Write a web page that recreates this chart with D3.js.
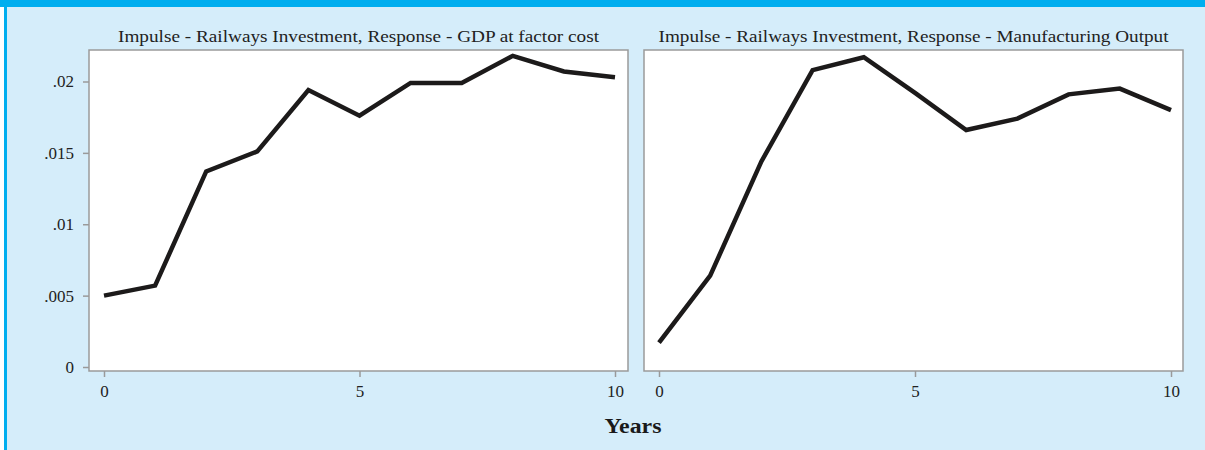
<!DOCTYPE html>
<html>
<head>
<meta charset="utf-8">
<script src="https://cdn.jsdelivr.net/npm/d3@7"></script>
<style>
  body { margin: 0; background: #fff; }
  svg { display: block; }
  .tick text { font-family: "Liberation Serif", "DejaVu Serif", serif; fill: #222; }
</style>
</head>
<body>
<svg width="1205" height="450"></svg>
<script>
  'use strict';

  // years after the impulse
  const years = [0, 1, 2, 3, 4, 5, 6, 7, 8, 9, 10];
  // response of GDP at factor cost
  const gdpResponse = [0.0050, 0.0057, 0.0137, 0.0151, 0.0194, 0.0176, 0.0199, 0.0199, 0.0218, 0.0207, 0.0203];
  // response of manufacturing output
  const mfgResponse = [0.0017, 0.0064, 0.0144, 0.0208, 0.0217, 0.0192, 0.0166, 0.0174, 0.0191, 0.0195, 0.0180];
  const panelTitles = [
    'Impulse - Railways Investment, Response - GDP at factor cost',
    'Impulse - Railways Investment, Response - Manufacturing Output'
  ];
  const yTicks = [0, 0.005, 0.01, 0.015, 0.02];
  const yTickLabels = ['0', '.005', '.01', '.015', '.02'];
  const xTicks = [0, 5, 10];

  const svg = d3.select('svg');

  // page background + blue frame
  svg.append('rect').attr('x', 4).attr('y', 0).attr('width', 1201).attr('height', 450).attr('fill', '#d5edfa');
  svg.append('rect').attr('x', 4).attr('y', 0).attr('width', 3).attr('height', 450).attr('fill', '#00aeef');
  svg.append('rect').attr('x', 0).attr('y', 0).attr('width', 1205).attr('height', 7).attr('fill', '#00aeef');

  const y = d3.scaleLinear().domain([0, 0.02]).range([367, 81.5]);

  const panels = [
    {left: 89, right: 628, x0: 104, x1: 615, values: gdpResponse, title: panelTitles[0], titleW: 481, yAxis: true},
    {left: 644, right: 1183, x0: 659, x1: 1171, values: mfgResponse, title: panelTitles[1], titleW: 510, yAxis: false}
  ];
  const plotTop = 50, plotBottom = 371;

  panels.forEach(p => {
    const x = d3.scaleLinear().domain([0, 10]).range([p.x0, p.x1]);
    const g = svg.append('g');

    g.append('rect')
      .attr('x', p.left).attr('y', plotTop)
      .attr('width', p.right - p.left).attr('height', plotBottom - plotTop)
      .attr('fill', '#fff').attr('stroke', '#9a9a9a').attr('stroke-width', 1.5);

    g.append('text')
      .attr('x', (p.left + p.right) / 2).attr('y', 42)
      .attr('text-anchor', 'middle')
      .attr('font-family', '"Liberation Serif", "DejaVu Serif", serif')
      .attr('font-size', 16).attr('fill', '#222')
      .attr('textLength', p.titleW).attr('lengthAdjust', 'spacingAndGlyphs')
      .text(p.title);

    const xAxis = g.append('g')
      .attr('transform', `translate(0,${plotBottom})`)
      .call(d3.axisBottom(x).tickValues(xTicks).tickSize(6).tickPadding(8).tickFormat(d3.format('d')));
    xAxis.select('.domain').remove();
    xAxis.selectAll('.tick line').attr('stroke', '#9a9a9a').attr('stroke-width', 1.5);
    xAxis.selectAll('.tick text').attr('font-size', 17);

    if (p.yAxis) {
      const yAxis = g.append('g')
        .attr('transform', `translate(${p.left},0)`)
        .call(d3.axisLeft(y).tickValues(yTicks).tickSize(6).tickPadding(9)
          .tickFormat((d, i) => yTickLabels[i]));
      yAxis.select('.domain').remove();
      yAxis.selectAll('.tick line').attr('stroke', '#9a9a9a').attr('stroke-width', 1.5);
      yAxis.selectAll('.tick text').attr('font-size', 17);
    }

    const line = d3.line()
      .x((d, i) => x(years[i]))
      .y(d => y(d));

    g.append('path')
      .datum(p.values)
      .attr('d', line)
      .attr('fill', 'none')
      .attr('stroke', '#1c1a1a')
      .attr('stroke-width', 4.5)
      .attr('stroke-linejoin', 'miter');
  });

  svg.append('text')
    .attr('x', 633).attr('y', 433)
    .attr('text-anchor', 'middle')
    .attr('font-family', '"Liberation Serif", "DejaVu Serif", serif')
    .attr('font-weight', 'bold')
    .attr('font-size', 20).attr('fill', '#1a1a1a')
    .attr('textLength', 57).attr('lengthAdjust', 'spacingAndGlyphs')
    .text('Years');
</script>
</body>
</html>
